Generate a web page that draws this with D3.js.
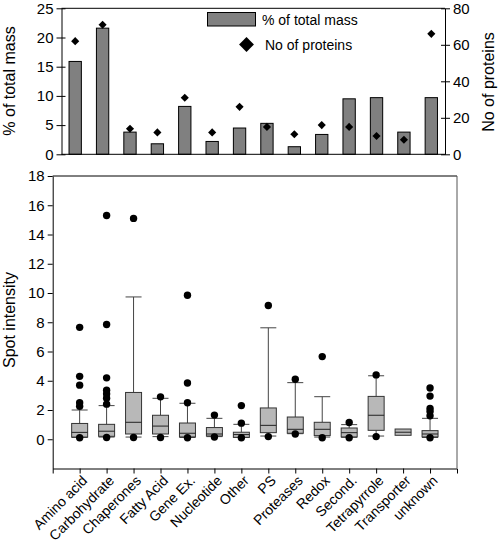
<!DOCTYPE html>
<html><head><meta charset="utf-8">
<script src="https://cdn.jsdelivr.net/npm/d3@7"></script>
<style>body{margin:0;background:#fff}svg{display:block;font-family:"Liberation Sans",Arial,sans-serif}</style>
</head><body><svg id="c" width="498" height="544"></svg>
<script>
const categories = ["Amino acid","Carbohydrate","Chaperones","Fatty Acid","Gene Ex.","Nucleotide","Other","PS","Proteases","Redox","Second.","Tetrapyrrole","Transporter","unknown"];
const massPct = [15.9, 21.6, 3.8, 1.8, 8.2, 2.2, 4.5, 5.3, 1.3, 3.4, 9.5, 9.7, 3.8, 9.7];
const proteinCount = [62, 71, 14, 12, 31, 12, 26, 15, 11, 16, 15, 10, 8, 66];
const massTicks = [0, 5, 10, 15, 20, 25];
const countTicks = [0, 20, 40, 60, 80];
const intensityTicks = [0, 2, 4, 6, 8, 10, 12, 14, 16, 18];

const whiskerLow = [0.12, 0.15, 0.15, 0.18, 0.12, 0.18, 0.12, 0.22, 0.38, 0.15, 0.13, 0.22, null, 0.12];
const q1 = [0.15, 0.2, 0.36, 0.36, 0.16, 0.22, 0.13, 0.45, 0.41, 0.25, 0.16, 0.61, 0.27, 0.16];
const median = [0.47, 0.55, 1.16, 0.9, 0.41, 0.36, 0.32, 0.95, 0.68, 0.68, 0.45, 1.64, 0.48, 0.36];
const q3 = [1.08, 1.02, 3.2, 1.64, 1.11, 0.8, 0.48, 2.14, 1.52, 1.16, 0.77, 2.93, 0.7, 0.59];
const whiskerHigh = [2.0, 2.3, 9.73, 2.8, 2.46, 1.43, 1.02, 7.62, 3.87, 2.91, 1.0, 4.34, null, 1.43];
const outliers = [[7.65,4.3,3.7,2.5,2.25,0.1],[15.3,7.85,4.2,3.35,3.1,2.8,2.4,0.12],[15.1,0.12],[2.9,0.12],[9.85,3.85,2.5,0.1],[1.65,0.15],[2.3,1.1,0.1],[9.15,0.18],[4.1,0.36],[5.65,0.1],[1.15,0.1],[4.4,0.18],[],[3.5,2.95,2.1,1.9,1.6,0.1]];

const svg = d3.select("#c");
const FS = 15;

// ---------- Top chart ----------
const tx = d3.scaleBand().domain(categories).range([61.5, 445]).paddingInner(0.55).paddingOuter(0.275);
const tyL = d3.scaleLinear().domain([0, 25]).range([154.3, 8.3]);
const tyR = d3.scaleLinear().domain([0, 80]).range([154.3, 8.3]);
const topG = svg.append("g");

topG.selectAll("rect.bar").data(categories).join("rect").attr("class","bar")
  .attr("x", d => tx(d)).attr("width", tx.bandwidth())
  .attr("y", (d,i) => tyL(massPct[i])).attr("height", (d,i) => tyL(0) - tyL(massPct[i]))
  .attr("fill", "#808080").attr("stroke", "#000").attr("stroke-width", 1);

topG.selectAll("path.dia").data(categories).join("path").attr("class","dia")
  .attr("transform", (d,i) => `translate(${tx(d)+tx.bandwidth()/2},${tyR(proteinCount[i])}) rotate(45)`)
  .attr("d", d3.symbol().type(d3.symbolSquare).size(33)).attr("fill", "#000");

topG.append("line").attr("x1",61.5).attr("x2",445).attr("y1",8.3).attr("y2",8.3).attr("stroke","#000");
topG.append("line").attr("x1",61.5).attr("x2",445).attr("y1",154.3).attr("y2",154.3).attr("stroke","#000");

const axL = topG.append("g").attr("transform","translate(61.5,0)")
  .call(d3.axisLeft(tyL).tickValues(massTicks).tickSize(5).tickSizeOuter(0).tickPadding(3));
const axR = topG.append("g").attr("transform","translate(445,0)")
  .call(d3.axisRight(tyR).tickValues(countTicks).tickSize(5).tickSizeOuter(0).tickPadding(3));
[axL, axR].forEach(a => { a.selectAll("text").attr("font-size", FS).attr("fill","#000").attr("font-family","Liberation Sans, Arial, sans-serif"); a.selectAll("line,path").attr("stroke","#000"); });
axR.selectAll(".tick line").attr("x1", -4);
axL.selectAll(".tick line").attr("x1", 4).attr("x2", -5);

topG.append("text").attr("transform","translate(15,81) rotate(-90)").attr("text-anchor","middle")
  .attr("font-size",16).text("% of total mass");
topG.append("text").attr("transform","translate(494,82) rotate(-90)").attr("text-anchor","middle")
  .attr("font-size",16).text("No of proteins");

const lg = topG.append("g");
lg.append("rect").attr("x",207.5).attr("y",12.5).attr("width",48).attr("height",13.5).attr("fill","#808080").attr("stroke","#000");
lg.append("text").attr("x",262).attr("y",25).attr("font-size",14).text("% of total mass");
lg.append("path").attr("transform","translate(246.5,44.5) rotate(45)").attr("d", d3.symbol().type(d3.symbolSquare).size(110)).attr("fill","#000");
lg.append("text").attr("x",265).attr("y",49.5).attr("font-size",14).text("No of proteins");

// ---------- Bottom chart ----------
const bx = d3.scalePoint().domain(categories).range([52.7, 457]).padding(1);
const by = d3.scaleLinear().domain([-2, 18]).range([468.5, 176]);
const bot = svg.append("g");

bot.append("line").attr("x1",52.7).attr("x2",457).attr("y1",176).attr("y2",176).attr("stroke","#000");
bot.append("line").attr("x1",457).attr("x2",457).attr("y1",176).attr("y2",468.5).attr("stroke","#555");

const bw = 16;
categories.forEach((c, i) => {
  const cx = bx(c);
  const g = bot.append("g");
  if (whiskerHigh[i] != null) {
    g.append("line").attr("x1",cx).attr("x2",cx).attr("y1",by(q3[i])).attr("y2",by(whiskerHigh[i])).attr("stroke","#444");
    g.append("line").attr("x1",cx-bw/2).attr("x2",cx+bw/2).attr("y1",by(whiskerHigh[i])).attr("y2",by(whiskerHigh[i])).attr("stroke","#444");
  }
  if (whiskerLow[i] != null) {
    g.append("line").attr("x1",cx).attr("x2",cx).attr("y1",by(q1[i])).attr("y2",by(whiskerLow[i])).attr("stroke","#444");
    g.append("line").attr("x1",cx-bw/2).attr("x2",cx+bw/2).attr("y1",by(whiskerLow[i])).attr("y2",by(whiskerLow[i])).attr("stroke","#444");
  }
  g.append("rect").attr("x",cx-bw/2).attr("width",bw).attr("y",by(q3[i])).attr("height",by(q1[i])-by(q3[i]))
    .attr("fill","#b8b8b8").attr("stroke","#333");
  g.append("line").attr("x1",cx-bw/2).attr("x2",cx+bw/2).attr("y1",by(median[i])).attr("y2",by(median[i])).attr("stroke","#222");
  g.selectAll("circle").data(outliers[i]).join("circle").attr("cx",cx).attr("cy",d=>by(d)).attr("r",3.7).attr("fill","#000");
});

const ayB = bot.append("g").attr("transform","translate(52.7,0)")
  .call(d3.axisLeft(by).tickValues(intensityTicks).tickSize(5).tickSizeOuter(0).tickPadding(3));
const axB = bot.append("g").attr("transform","translate(0,468.5)")
  .call(d3.axisBottom(bx).tickSize(5).tickSizeOuter(5).tickFormat(""));
[ayB, axB].forEach(a => { a.selectAll("text").attr("font-size", FS).attr("fill","#000").attr("font-family","Liberation Sans, Arial, sans-serif"); a.selectAll("line,path").attr("stroke","#000"); });

bot.selectAll("text.cat").data(categories).join("text").attr("class","cat")
  .attr("transform", d => `translate(${bx(d)+5},478) rotate(-45)`)
  .attr("text-anchor","end").attr("dy","0.35em").attr("font-size",14).text(d => d);

bot.append("text").attr("transform","translate(15,320) rotate(-90)").attr("text-anchor","middle")
  .attr("font-size",16).text("Spot intensity");
</script></body></html>
